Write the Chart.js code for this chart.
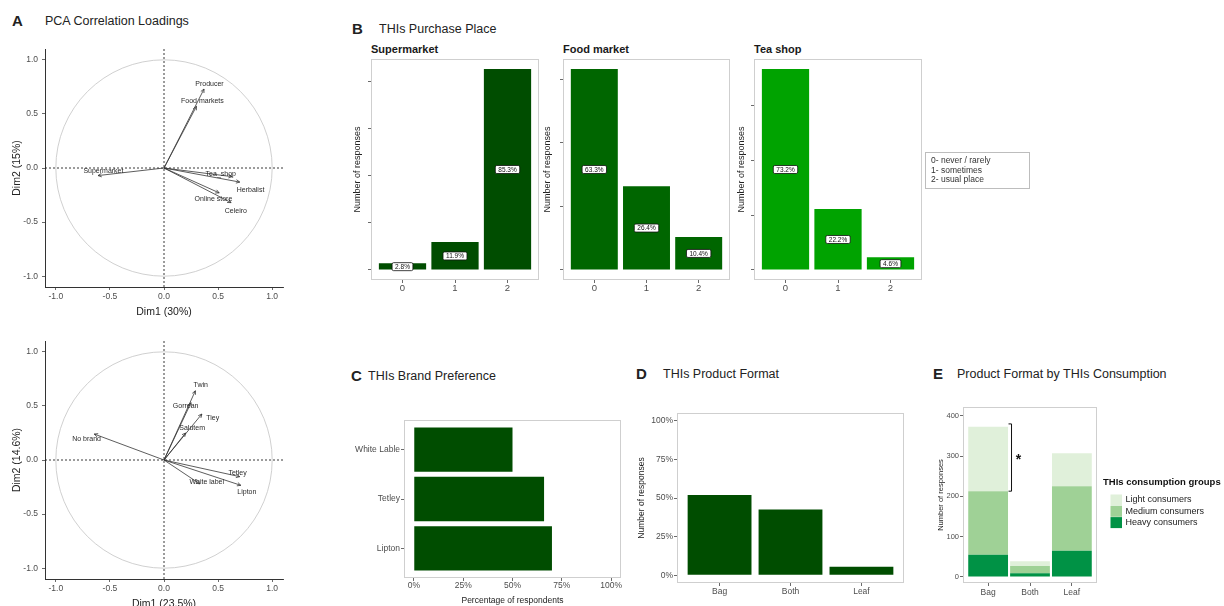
<!DOCTYPE html>
<html>
<head>
<meta charset="utf-8">
<script src="https://cdn.jsdelivr.net/npm/chart.js@4.4.1/dist/chart.umd.min.js"></script>
<style>
body { margin: 0; width: 1224px; height: 606px; overflow: hidden; background: #fff; position: relative;
       font-family: "Liberation Sans", Arial, sans-serif; }
canvas { position: absolute; }
.tag { position: absolute; font-weight: bold; font-size: 15px; line-height: 16px; color: #222; }
.head { position: absolute; font-size: 12.5px; line-height: 16px; color: #222; white-space: nowrap; }
.strip { position: absolute; font-size: 11px; font-weight: bold; line-height: 14px; color: #1a1a1a; white-space: nowrap; }
</style>
</head>
<body>
<div class="tag" style="left:12px;top:13px">A</div>
<div class="head" style="left:45px;top:13px">PCA Correlation Loadings</div>
<div class="tag" style="left:352px;top:21px">B</div>
<div class="head" style="left:379px;top:21px">THIs Purchase Place</div>
<div class="strip" style="left:371px;top:42px">Supermarket</div>
<div class="strip" style="left:563px;top:42px">Food market</div>
<div class="strip" style="left:754px;top:42px">Tea shop</div>
<div class="tag" style="left:351px;top:368px">C</div>
<div class="head" style="left:368px;top:368px">THIs Brand Preference</div>
<div class="tag" style="left:636px;top:366px">D</div>
<div class="head" style="left:663px;top:366px">THIs Product Format</div>
<div class="tag" style="left:933px;top:366px">E</div>
<div class="head" style="left:957px;top:366px">Product Format by THIs Consumption</div>

<script>
// ---- A: PCA variable loadings ----
const unitTicks = [-1, -0.5, 0, 0.5, 1];

const placeVars = ['Producer', 'Food markets', 'Supermarket', 'Tea_shop', 'Herbalist', 'Online store', 'Celeiro'];
const placeDim1 = [0.37, 0.30, -0.61, 0.63, 0.70, 0.51, 0.62];
const placeDim2 = [0.73, 0.57, -0.07, -0.08, -0.13, -0.23, -0.32];
const placeLabX = [0.42, 0.355, -0.56, 0.525, 0.80, 0.457, 0.664];
const placeLabY = [0.775, 0.62, -0.03, -0.053, -0.20, -0.29, -0.395];

const brandVars = ['Twin', 'Gorrean', 'Tiey', 'Salutem', 'No brand', 'Tetley', 'Lipton', 'White label'];
const brandDim1 = [0.29, 0.25, 0.35, 0.20, -0.645, 0.70, 0.71, 0.33];
const brandDim2 = [0.64, 0.53, 0.425, 0.25, 0.24, -0.154, -0.234, -0.22];
const brandLabX = [0.34, 0.20, 0.45, 0.26, -0.716, 0.68, 0.766, 0.395];
const brandLabY = [0.69, 0.50, 0.39, 0.295, 0.19, -0.123, -0.30, -0.20];

// ---- B: purchase place (% of responses) ----
const placeCodes = ['0', '1', '2'];
const placeTicks = [0, 20, 40, 60, 80];
const superPct = [2.8, 11.9, 85.3];
const foodPct = [63.3, 26.4, 10.4];
const teaPct = [73.2, 22.2, 4.6];
const placeLegend = ['0- never / rarely', '1- sometimes', '2- usual place'];

// ---- C: brand preference ----
const brands = ['White Lable', 'Tetley', 'Lipton'];
const brandPct = [50, 66, 70];
const pctTicks = [0, 25, 50, 75, 100];

// ---- D: product format ----
const formats = ['Bag', 'Both', 'Leaf'];
const formatPct = [52, 42.5, 5.5];

// ---- E: format by consumption group ----
const groupNames = ['Heavy consumers', 'Medium consumers', 'Light consumers'];
const heavyCounts = [55, 9, 65];
const mediumCounts = [158, 18, 160];
const lightCounts = [160, 12, 82];
const countTicks = [0, 100, 200, 300, 400];
const sigBracket = [213, 380];

const FONT = '"Liberation Sans", Arial, sans-serif';
Chart.defaults.font.family = FONT;
Chart.defaults.color = '#4d4d4d';
Chart.defaults.plugins.legend.display = false;
Chart.defaults.plugins.tooltip.enabled = false;

function makeCanvas(left, top, w, h) {
    const c = document.createElement('canvas');
    c.width = w; c.height = h;
    c.style.left = left + 'px'; c.style.top = top + 'px';
    c.style.width = w + 'px'; c.style.height = h + 'px';
    document.body.appendChild(c);
    return c.getContext('2d');
}

// one axis, with fixed ticks and a fixed box size so plot areas line up
function axis(o) {
    return {
        type: 'linear', min: o.min, max: o.max, reverse: !!o.reverse, offset: false,
        afterBuildTicks: s => { s.ticks = o.ticks.map(v => ({ value: v })); },
        afterFit: s => { if (s.isHorizontal()) s.height = o.size; else s.width = o.size; },
        ticks: { callback: o.fmt, font: { size: o.font || 8.5 }, color: '#4d4d4d', padding: o.pad || 0,
                 maxRotation: 0, autoSkip: false },
        grid: { offset: false, drawOnChartArea: false, tickLength: 3, color: '#444', lineWidth: 0.8 },
        border: { display: !!o.border, color: '#333', width: 1 },
        title: o.title ? { display: true, text: o.title, color: '#222', font: { size: o.tsize }, padding: o.tpad }
                       : { display: false }
    };
}

const panelBox = {
    id: 'panelBox',
    afterDraw(chart) {
        const { ctx, chartArea: a } = chart;
        ctx.save();
        ctx.strokeStyle = '#cfcfcf';
        ctx.lineWidth = 1;
        ctx.strokeRect(Math.round(a.left) + 0.5, Math.round(a.top) + 0.5, Math.round(a.width) - 1, Math.round(a.height) - 1);
        ctx.restore();
    }
};

function pcaPlugin(names, lx, ly) {
    return {
        id: 'pcaDecor',
        beforeDatasetsDraw(chart) {
            const { ctx, chartArea: a, scales: { x, y } } = chart;
            const cx = x.getPixelForValue(0), cy = y.getPixelForValue(0);
            const r = x.getPixelForValue(1) - cx;
            ctx.save();
            ctx.strokeStyle = '#c4c4c4';
            ctx.lineWidth = 0.8;
            ctx.beginPath();
            ctx.arc(cx, cy, r, 0, Math.PI * 2);
            ctx.stroke();
            ctx.strokeStyle = '#222';
            ctx.lineWidth = 0.9;
            ctx.setLineDash([2, 2]);
            ctx.beginPath();
            ctx.moveTo(a.left, cy); ctx.lineTo(a.right, cy);
            ctx.moveTo(cx, a.top); ctx.lineTo(cx, a.bottom);
            ctx.stroke();
            ctx.restore();
        },
        afterDatasetsDraw(chart) {
            const { ctx, scales: { x, y } } = chart;
            ctx.save();
            ctx.strokeStyle = '#333';
            ctx.lineWidth = 0.8;
            chart.data.datasets.forEach((ds, i) => {
                const [p0, p1] = chart.getDatasetMeta(i).data;
                const ang = Math.atan2(p1.y - p0.y, p1.x - p0.x);
                ctx.beginPath();
                [-0.45, 0.45].forEach(d => {
                    ctx.moveTo(p1.x, p1.y);
                    ctx.lineTo(p1.x - 4 * Math.cos(ang + d), p1.y - 4 * Math.sin(ang + d));
                });
                ctx.stroke();
            });
            ctx.fillStyle = '#2a2a2a';
            ctx.font = '7px ' + FONT;
            ctx.textAlign = 'center';
            ctx.textBaseline = 'middle';
            names.forEach((n, i) => ctx.fillText(n, x.getPixelForValue(lx[i]), y.getPixelForValue(ly[i])));
            ctx.restore();
        }
    };
}

function pcaChart(top, h, padTop, xSize, names, d1, d2, lx, ly, xTitle, yTitle) {
    const ctx = makeCanvas(0, top, 300, h);
    return new Chart(ctx, {
        type: 'scatter',
        data: {
            datasets: names.map((n, i) => ({
                label: n,
                data: [{ x: 0, y: 0 }, { x: d1[i], y: d2[i] }],
                showLine: true, borderColor: '#333', borderWidth: 0.8, pointRadius: 0
            }))
        },
        options: {
            responsive: false, animation: false, devicePixelRatio: 1,
            layout: { padding: { top: padTop, right: 17, left: 0, bottom: 0 } },
            scales: {
                x: axis({ min: -1.1, max: 1.1, ticks: unitTicks, fmt: v => v.toFixed(1), size: xSize, pad: 2,
                          border: true, title: xTitle, tsize: 10.5, tpad: { top: 0, bottom: xSize - 31 } }),
                y: axis({ min: -1.1, max: 1.1, ticks: unitTicks, fmt: v => v.toFixed(1), size: 45, pad: 4,
                          border: true, title: yTitle, tsize: 10.5, tpad: { top: 11, bottom: 0 } })
            }
        },
        plugins: [pcaPlugin(names, lx, ly)]
    });
}

pcaChart(30, 292, 19, 35, placeVars, placeDim1, placeDim2, placeLabX, placeLabY, 'Dim1 (30%)', 'Dim2 (15%)');
pcaChart(322, 294, 19, 37, brandVars, brandDim1, brandDim2, brandLabX, brandLabY, 'Dim1 (23.5%)', 'Dim2 (14.6%)');

// percent labels in white boxes at the middle of each bar
const pctLabels = {
    id: 'pctLabels',
    afterDatasetsDraw(chart) {
        const { ctx, scales: { y } } = chart;
        const ds = chart.data.datasets[0];
        ctx.save();
        ctx.font = '6.5px ' + FONT;
        ctx.textAlign = 'center';
        ctx.textBaseline = 'middle';
        chart.getDatasetMeta(0).data.forEach((bar, i) => {
            const v = ds.data[i].y;
            const txt = v.toFixed(1) + '%';
            const cy = y.getPixelForValue(v / 2);
            const w = ctx.measureText(txt).width + 6, h = 8;
            ctx.beginPath();
            if (ctx.roundRect) ctx.roundRect(bar.x - w / 2, cy - h / 2, w, h, 1.5);
            else ctx.rect(bar.x - w / 2, cy - h / 2, w, h);
            ctx.fillStyle = '#fff';
            ctx.fill();
            ctx.strokeStyle = '#111';
            ctx.lineWidth = 0.8;
            ctx.stroke();
            ctx.fillStyle = '#111';
            ctx.fillText(txt, bar.x, cy + 0.5);
        });
        ctx.restore();
    }
};

const placeKey = {
    id: 'placeKey',
    afterDraw(chart) {
        const { ctx, chartArea: a } = chart;
        const w = 104, h = 36;
        const left = Math.round(a.right) + 3, top = Math.round((a.top + a.bottom) / 2 - h / 2);
        ctx.save();
        ctx.strokeStyle = '#bdbdbd';
        ctx.lineWidth = 1;
        ctx.strokeRect(left + 0.5, top + 0.5, w, h);
        ctx.fillStyle = '#333';
        ctx.font = '8.5px ' + FONT;
        ctx.textBaseline = 'middle';
        placeLegend.forEach((t, i) => ctx.fillText(t, left + 6, top + 9 + i * 9.5));
        ctx.restore();
    }
};

function placeChart(left, w, ySize, padRight, values, color, extra) {
    const ctx = makeCanvas(left, 50, w, 250);
    const top = Math.max(...values);
    return new Chart(ctx, {
        type: 'bar',
        data: {
            datasets: [{
                data: values.map((v, i) => ({ x: i, y: v })),
                backgroundColor: color, barPercentage: 0.9, categoryPercentage: 1
            }]
        },
        options: {
            responsive: false, animation: false, devicePixelRatio: 1,
            layout: { padding: { top: 9, right: padRight, left: 0, bottom: 0 } },
            scales: {
                x: axis({ min: -0.6, max: 2.6, ticks: [0, 1, 2], fmt: v => placeCodes[v], size: 20, font: 9.5 }),
                y: axis({ min: -top * 0.05, max: top * 1.05, ticks: placeTicks.filter(v => v <= top), fmt: () => '',
                          size: ySize, title: 'Number of responses', tsize: 9, tpad: { top: 9.6, bottom: 0 } })
            }
        },
        plugins: [panelBox, pctLabels].concat(extra || [])
    });
}

placeChart(343, 202, 28, 6, superPct, '#004d00');
placeChart(533, 203, 30, 6, foodPct, '#006600');
placeChart(727, 313, 27, 118, teaPct, '#00a300', [placeKey]);

// ---- C ----
new Chart(makeCanvas(340, 410, 290, 196), {
    type: 'bar',
    data: {
        datasets: [{
            data: brandPct.map((v, i) => ({ x: v, y: i })),
            backgroundColor: '#004d00', barPercentage: 0.9, categoryPercentage: 1
        }]
    },
    options: {
        indexAxis: 'y',
        responsive: false, animation: false, devicePixelRatio: 1,
        layout: { padding: { top: 10, right: 9, left: 0, bottom: 0 } },
        scales: {
            x: axis({ min: -5, max: 105, ticks: pctTicks, fmt: v => v + '%', size: 28, pad: 0,
                      title: 'Percentage of respondents', tsize: 8.5, tpad: { top: 0, bottom: 0 } }),
            y: axis({ min: -0.6, max: 2.6, reverse: true, ticks: [0, 1, 2], fmt: v => brands[v], size: 64, pad: 1 })
        }
    },
    plugins: [panelBox]
});

// ---- D ----
new Chart(makeCanvas(630, 400, 285, 206), {
    type: 'bar',
    data: {
        datasets: [{
            data: formatPct.map((v, i) => ({ x: i, y: v })),
            backgroundColor: '#004d00', barPercentage: 0.9, categoryPercentage: 1
        }]
    },
    options: {
        responsive: false, animation: false, devicePixelRatio: 1,
        layout: { padding: { top: 13, right: 11, left: 0, bottom: 0 } },
        scales: {
            x: axis({ min: -0.6, max: 2.6, ticks: [0, 1, 2], fmt: v => formats[v], size: 23, pad: 1, font: 8.5 }),
            y: axis({ min: -5, max: 105, ticks: pctTicks, fmt: v => v + '%', size: 47, pad: 1,
                      title: 'Number of responses', tsize: 8.5, tpad: { top: 6.6, bottom: 0 } })
        }
    },
    plugins: [panelBox]
});

// ---- E ----
const groupKey = {
    id: 'groupKey',
    afterDraw(chart) {
        const { ctx, chartArea: a } = chart;
        const x0 = a.right + 6;
        ctx.save();
        ctx.textBaseline = 'middle';
        ctx.fillStyle = '#111';
        ctx.font = 'bold 9.5px ' + FONT;
        ctx.fillText('THIs consumption groups', x0, a.top + 75.5);
        ctx.font = '9px ' + FONT;
        chart.data.datasets.slice().reverse().forEach((ds, k) => {
            const cy = a.top + 93 + k * 11.3;
            ctx.fillStyle = ds.backgroundColor;
            ctx.fillRect(x0 + 7.5, cy - 5.5, 11.5, 11);
            ctx.fillStyle = '#222';
            ctx.fillText(ds.label, x0 + 22.5, cy);
        });
        ctx.restore();
    }
};

const sigMark = {
    id: 'sigMark',
    afterDatasetsDraw(chart) {
        const { ctx, scales: { y } } = chart;
        const bar = chart.getDatasetMeta(2).data[0];
        const bx = bar.x + bar.width / 2 + 3.5;
        const y0 = y.getPixelForValue(sigBracket[0]), y1 = y.getPixelForValue(sigBracket[1]);
        ctx.save();
        ctx.strokeStyle = '#111';
        ctx.lineWidth = 1;
        ctx.beginPath();
        ctx.moveTo(bx - 3, y1); ctx.lineTo(bx, y1); ctx.lineTo(bx, y0); ctx.lineTo(bx - 3, y0);
        ctx.stroke();
        ctx.fillStyle = '#111';
        ctx.font = 'bold 14px ' + FONT;
        ctx.textAlign = 'center';
        ctx.textBaseline = 'middle';
        ctx.fillText('*', bx + 7, (y0 + y1) / 2 + 3);
        ctx.restore();
    }
};

const groupColors = ['#009245', '#9fd196', '#e0f0da'];
new Chart(makeCanvas(930, 395, 294, 211), {
    type: 'bar',
    data: {
        datasets: [heavyCounts, mediumCounts, lightCounts].map((vals, k) => ({
            label: groupNames[k],
            data: vals.map((v, i) => ({ x: i, y: v })),
            backgroundColor: groupColors[k], barPercentage: 0.95, categoryPercentage: 1
        }))
    },
    options: {
        responsive: false, animation: false, devicePixelRatio: 1,
        layout: { padding: { top: 12, right: 127, left: 0, bottom: 0 } },
        scales: {
            x: Object.assign(axis({ min: -0.6, max: 2.6, ticks: [0, 1, 2], fmt: v => formats[v], size: 23, pad: 2, font: 8.5 }),
                             { stacked: true }),
            y: Object.assign(axis({ min: -15, max: 422, ticks: countTicks, fmt: v => v, size: 33, pad: 1, font: 7.5,
                                    title: 'Number of responses', tsize: 7.5, tpad: { top: 6.2, bottom: 0 } }),
                             { stacked: true })
        }
    },
    plugins: [panelBox, sigMark, groupKey]
});
</script>
</body>
</html>
